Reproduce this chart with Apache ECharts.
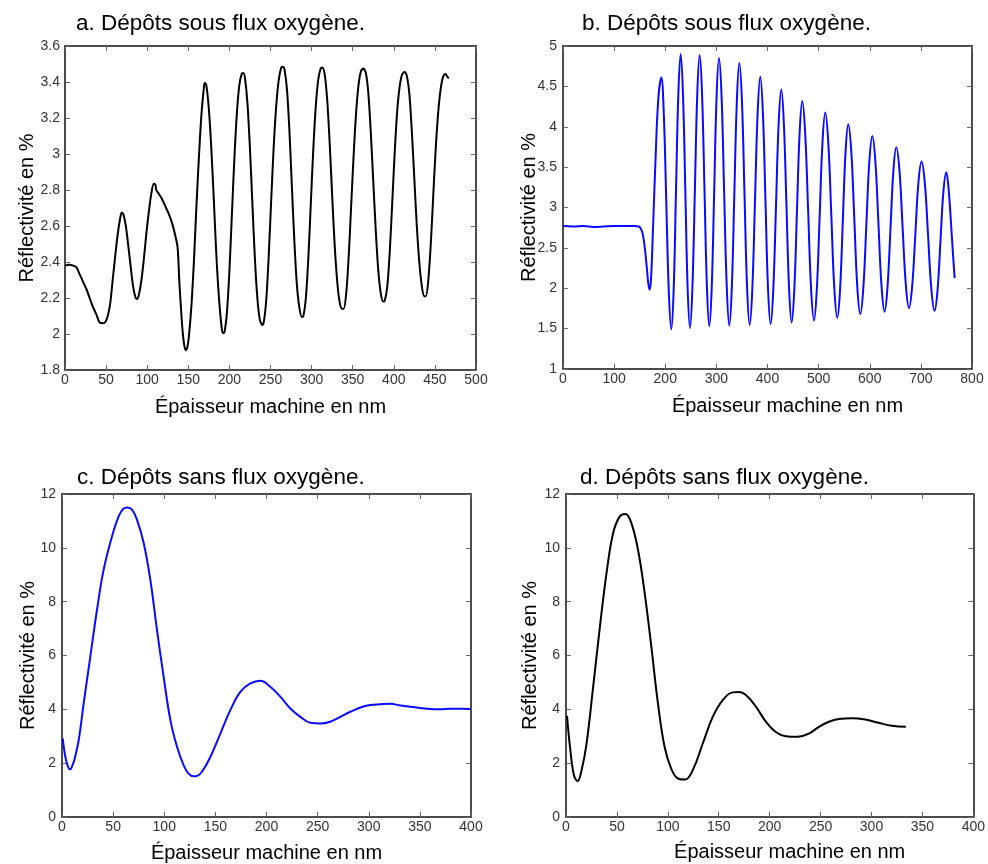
<!DOCTYPE html>
<html>
<head>
<meta charset="utf-8">
<script src="https://cdn.jsdelivr.net/npm/echarts@6/dist/echarts.min.js"></script>
<style>html,body{margin:0;padding:0;background:#fff}#c{width:988px;height:864px}</style>
</head>
<body>
<div id="c"></div>
<script>
const titles = ['a. Dépôts sous flux oxygène.', 'b. Dépôts sous flux oxygène.', 'c. Dépôts sans flux oxygène.', 'd. Dépôts sans flux oxygène.'];
const xAxisName = 'Épaisseur machine en nm';
const yAxisName = 'Réflectivité en %';

const xRanges = [[0, 500, 50], [0, 800, 100], [0, 400, 50], [0, 400, 50]];
const yRanges = [[1.8, 3.6, 0.2], [1, 5, 0.5], [0, 12, 2], [0, 12, 2]];

const seriesA = [[0,2.38],[5,2.385],[10,2.38],[14,2.37],[18,2.33],[22,2.29],[26,2.25],[30,2.2],[34,2.15],[38,2.11],[42,2.065],[46,2.06],[49,2.065],[52,2.1],[55,2.17],[58,2.3],[61,2.43],[64,2.55],[67,2.64],[69,2.675],[71,2.665],[74,2.6],[77,2.49],[80,2.37],[83,2.26],[86,2.2],[88,2.195],[90,2.22],[93,2.3],[96,2.42],[99,2.56],[102,2.68],[105,2.78],[108,2.835],[110,2.83],[111,2.8],[114,2.78],[118,2.75],[122,2.71],[126,2.67],[130,2.62],[134,2.55],[137,2.48],[139,2.3],[141,2.15],[143,2.02],[145,1.94],[147,1.91],[149,1.93],[151,2.0],[154,2.17],[157,2.42],[160,2.72],[163,2.99],[166,3.22],[169,3.37],[170,3.395],[172,3.38],[175,3.25],[178,3.03],[181,2.75],[184,2.45],[187,2.22],[190,2.06],[192,2.005],[194,2.01],[197,2.12],[200,2.35],[203,2.66],[206,2.97],[209,3.22],[212,3.38],[215,3.445],[217,3.45],[219,3.42],[222,3.28],[225,3.03],[228,2.72],[231,2.42],[234,2.2],[237,2.08],[240,2.05],[242,2.07],[245,2.2],[248,2.45],[251,2.76],[254,3.05],[257,3.27],[260,3.41],[263,3.48],[265,3.485],[267,3.47],[270,3.36],[273,3.13],[276,2.82],[279,2.52],[282,2.28],[285,2.15],[288,2.095],[290,2.1],[293,2.2],[296,2.42],[299,2.72],[302,3.02],[305,3.26],[308,3.41],[311,3.475],[313,3.48],[316,3.44],[319,3.3],[322,3.06],[325,2.77],[328,2.5],[331,2.3],[334,2.18],[337,2.14],[339,2.14],[342,2.22],[345,2.42],[348,2.7],[351,2.98],[354,3.22],[357,3.38],[360,3.46],[363,3.475],[366,3.45],[369,3.34],[372,3.12],[375,2.85],[378,2.58],[381,2.36],[384,2.23],[387,2.18],[389,2.185],[392,2.26],[395,2.45],[398,2.72],[401,3.0],[404,3.23],[407,3.37],[410,3.44],[413,3.455],[416,3.43],[419,3.33],[422,3.12],[425,2.86],[428,2.6],[431,2.4],[434,2.27],[437,2.21],[439,2.21],[442,2.3],[445,2.5],[448,2.77],[451,3.03],[454,3.23],[457,3.36],[460,3.43],[463,3.445],[465,3.43],[467,3.42]];

const seriesB = [[0,2.77],[20,2.765],[40,2.77],[60,2.76],[80,2.765],[100,2.77],[120,2.77],[140,2.77],[148,2.765],[152,2.74],[156,2.67],[160,2.5],[164,2.25],[167,2.05],[169.5,1.98],[172,2.1],[175,2.55],[181,3.6],[186.5,4.35],[192.3,4.61],[197.2,4.15],[202.1,3.05],[207,1.95],[211.9,1.49],[216.5,1.99],[221,3.2],[225.6,4.4],[230.1,4.9],[234.7,4.4],[239.3,3.2],[243.8,2.0],[248.4,1.507],[253.1,2.0],[257.9,3.2],[262.6,4.4],[267.3,4.89],[272,4.4],[276.8,3.21],[281.5,2.02],[286.2,1.53],[290.9,2.01],[295.7,3.19],[300.4,4.37],[305.1,4.85],[310.2,4.37],[315.2,3.19],[320.3,2.02],[325.3,1.536],[330.2,2.01],[335.1,3.16],[340,4.31],[344.9,4.79],[350,4.32],[355,3.17],[360,2.02],[365.1,1.545],[370.3,1.99],[375.5,3.08],[380.7,4.17],[385.9,4.62],[391,4.17],[396,3.09],[401,2.0],[406.1,1.557],[411.3,1.98],[416.6,3.01],[421.8,4.04],[427,4.46],[432,4.04],[437.1,3.02],[442.2,2.0],[447.2,1.577],[452.4,1.98],[457.6,2.95],[462.8,3.92],[468,4.32],[473.7,3.92],[479.5,2.96],[485.2,2.0],[490.9,1.6],[496.4,1.98],[502,2.89],[507.5,3.8],[513,4.175],[518.9,3.8],[524.8,2.91],[530.6,2.01],[536.5,1.635],[541.9,1.98],[547.3,2.83],[552.6,3.68],[558,4.03],[563.9,3.69],[569.8,2.86],[575.6,2.02],[581.5,1.68],[587.4,2.0],[593.3,2.78],[599.1,3.56],[605,3.886],[611,3.57],[617,2.8],[623,2.03],[629,1.71],[634.7,2.01],[640.5,2.73],[646.2,3.45],[651.9,3.746],[658.1,3.46],[664.3,2.75],[670.5,2.05],[676.7,1.755],[682.9,2.02],[689.1,2.66],[695.2,3.31],[701.4,3.57],[707.8,3.3],[714.1,2.65],[720.5,1.99],[726.8,1.72],[732.5,1.97],[738.3,2.58],[744,3.19],[749.7,3.437],[754,3.25],[758,2.9],[762,2.5],[766,2.126]];

const seriesC = [[0.7,2.92],[3.3,2.23],[6,1.85],[8.1,1.77],[10,1.9],[12,2.11],[16.3,2.85],[21.2,4.22],[27.7,5.96],[34.2,7.69],[40.7,9.18],[48.9,10.42],[55.4,11.17],[60,11.45],[64,11.5],[68.5,11.42],[73.3,11.05],[79.9,10.18],[86.4,8.81],[92.9,6.95],[99.4,5.21],[106,3.6],[112.5,2.61],[119,1.92],[124,1.6],[128.8,1.51],[132,1.52],[136.9,1.68],[145.1,2.23],[154.9,3.1],[164.6,3.97],[174.4,4.65],[184.2,4.96],[194,5.06],[203.7,4.84],[213.5,4.47],[223.3,4.03],[233.1,3.72],[242.9,3.5],[252.6,3.47],[262.4,3.54],[272.2,3.72],[282,3.91],[291.8,4.07],[301.5,4.16],[311.3,4.19],[321.1,4.21],[330.9,4.14],[340.7,4.1],[350.4,4.05],[360.2,4.01],[370,4.0],[379.8,4.02],[389.6,4.02],[399.4,4.01]];

const seriesD = [[1,3.76],[3.9,2.61],[7.8,1.55],[11.4,1.33],[15.3,1.74],[20.2,2.73],[26.7,4.84],[33.3,7.07],[39.8,9.06],[46.3,10.55],[52.8,11.17],[58.4,11.26],[64.2,10.92],[70.7,9.93],[77.3,8.31],[83.8,6.33],[90.3,4.22],[96.8,2.61],[103.3,1.8],[109.9,1.43],[117,1.39],[124.5,1.74],[134.3,2.73],[144.1,3.72],[153.9,4.34],[163.7,4.63],[170.2,4.64],[176.7,4.53],[186.5,4.1],[196.3,3.54],[206,3.16],[215.8,3.0],[227.2,2.98],[238.6,3.1],[248.4,3.35],[258.2,3.54],[268,3.64],[281,3.67],[294,3.62],[307,3.5],[320.1,3.39],[333.8,3.35]];

const allData = [seriesA, seriesB, seriesC, seriesD];
const colors = ['#000000', '#0a0aff', '#0a0aff', '#000000'];
const smoothing = [0.3, 0.4, 0.4, 0.4];

const grids = [
  {left: 65, top: 46, width: 411, height: 324},
  {left: 563, top: 46, width: 409, height: 323},
  {left: 62, top: 494, width: 409, height: 323},
  {left: 566, top: 494, width: 409, height: 323}
];
const titlePos = [[76, 12], [582, 12], [77, 466], [580, 466]];
const xNameGap = [27, 27, 26, 25];
const xNamePad = [[0,0,0,0], [0,0,0,40], [0,0,0,0], [0,0,0,40]];
const yNameGap = [28, 24, 24, 26];
const yLabelMargin = [5, 6, 6, 6];

const font = "'Liberation Sans', Arial, Helvetica, sans-serif";
const mkLine = () => ({show: true, onZero: false, lineStyle: {color: '#111', width: 1.5}});
const mkTick = () => ({show: true, inside: true, length: 5, lineStyle: {color: '#666', width: 1}});

const xAxis = [], yAxis = [], series = [], title = [];
grids.forEach((g, i) => {
  const [xmin, xmax, xint] = xRanges[i];
  const [ymin, ymax, yint] = yRanges[i];
  xAxis.push({
    gridIndex: i, type: 'value', position: 'bottom', min: xmin, max: xmax, interval: xint,
    name: xAxisName, nameLocation: 'middle', nameGap: xNameGap[i], nameMoveOverlap: false,
    nameTextStyle: {fontSize: 20, color: '#000', fontFamily: font, padding: xNamePad[i]},
    axisLine: mkLine(), axisTick: mkTick(), splitLine: {show: false},
    axisLabel: {fontSize: 14, color: '#333', fontFamily: font, margin: 3, showMaxLabel: true, showMinLabel: true}
  });
  xAxis.push({
    gridIndex: i, type: 'value', position: 'top', min: xmin, max: xmax, interval: xint,
    axisLine: mkLine(), axisTick: mkTick(), splitLine: {show: false}, axisLabel: {show: false}
  });
  yAxis.push({
    gridIndex: i, type: 'value', position: 'left', min: ymin, max: ymax, interval: yint,
    name: yAxisName, nameLocation: 'middle', nameGap: yNameGap[i], nameMoveOverlap: false,
    nameTextStyle: {fontSize: 20, color: '#000', fontFamily: font},
    axisLine: mkLine(), axisTick: mkTick(), splitLine: {show: false},
    axisLabel: {fontSize: 14, color: '#333', fontFamily: font, margin: yLabelMargin[i], showMaxLabel: true, showMinLabel: true}
  });
  yAxis.push({
    gridIndex: i, type: 'value', position: 'right', min: ymin, max: ymax, interval: yint,
    axisLine: mkLine(), axisTick: mkTick(), splitLine: {show: false}, axisLabel: {show: false}
  });
  series.push({
    type: 'line', xAxisIndex: 2 * i, yAxisIndex: 2 * i, data: allData[i],
    showSymbol: false, smooth: smoothing[i], lineStyle: {color: colors[i], width: 2}, itemStyle: {color: colors[i]}
  });
  title.push({
    text: titles[i], left: titlePos[i][0], top: titlePos[i][1], padding: 0,
    textStyle: {fontSize: 22.5, fontWeight: 'normal', color: '#000', fontFamily: font}
  });
});

const chart = echarts.init(document.getElementById('c'), null, {renderer: 'canvas'});
chart.setOption({animation: false, backgroundColor: '#fff', title, grid: grids, xAxis, yAxis, series});
</script>
</body>
</html>
